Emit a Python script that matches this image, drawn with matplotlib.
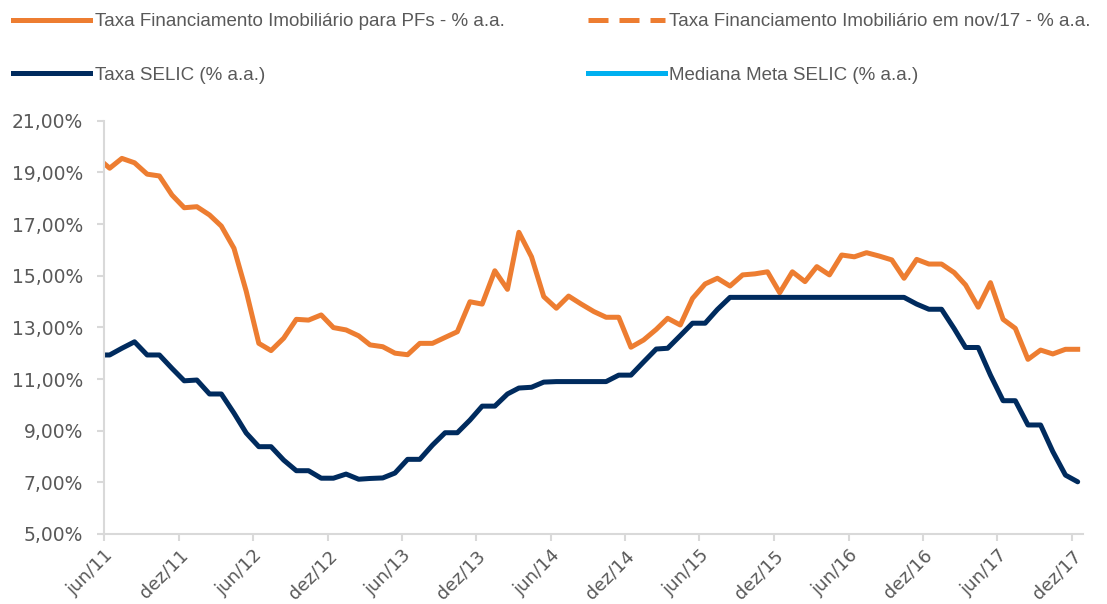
import matplotlib
matplotlib.use('Agg')
import matplotlib.pyplot as plt
from matplotlib.lines import Line2D
from matplotlib.ticker import FuncFormatter
import pandas as pd

# meses (pontos no meio do mes), de mai/11 a dez/17
meses = pd.date_range('2011-05-01', '2017-12-01', freq='MS') + pd.Timedelta(days=14)

# Taxa Financiamento Imobiliario para PFs - % a.a.
fin_imob = [19.58,
            19.16, 19.54, 19.37, 18.93, 18.86, 18.12, 17.63, 17.67, 17.35, 16.92,
            16.06, 14.40, 12.38, 12.10, 12.58, 13.31, 13.28, 13.48, 12.99, 12.90,
            12.67, 12.32, 12.25, 12.00, 11.94, 12.38, 12.38, 12.61, 12.83, 13.99,
            13.90, 15.19, 14.47, 16.68, 15.73, 14.19, 13.74, 14.21, 13.90, 13.61,
            13.39, 13.39, 12.23, 12.51, 12.92, 13.35, 13.09, 14.12, 14.68, 14.90,
            14.60, 15.03, 15.07, 15.15, 14.34, 15.15, 14.77, 15.35, 15.03, 15.80,
            15.73, 15.89, 15.76, 15.61, 14.90, 15.63, 15.45, 15.45, 15.12, 14.64,
            13.78, 14.73, 13.31, 12.96, 11.76, 12.12, 11.97, 12.15, 12.15]

# Taxa SELIC (% a.a.)
selic = [11.93,
         11.93, 12.19, 12.44, 11.93, 11.93, 11.41, 10.93, 10.96, 10.42, 10.42,
         9.68, 8.91, 8.38, 8.38, 7.86, 7.45, 7.45, 7.16, 7.16, 7.32,
         7.12, 7.15, 7.17, 7.36, 7.89, 7.89, 8.44, 8.92, 8.92, 9.41,
         9.95, 9.95, 10.42, 10.65, 10.68, 10.88, 10.90, 10.90, 10.90, 10.90,
         10.90, 11.15, 11.15, 11.66, 12.16, 12.19, 12.68, 13.16, 13.16, 13.69,
         14.16, 14.16, 14.16, 14.16, 14.16, 14.16, 14.16, 14.16, 14.16, 14.16,
         14.16, 14.16, 14.16, 14.16, 14.16, 13.90, 13.70, 13.70, 12.95, 12.22,
         12.22, 11.15, 10.16, 10.16, 9.22, 9.22, 8.19, 7.28, 7.02]

meses_pt = ['jan', 'fev', 'mar', 'abr', 'mai', 'jun', 'jul', 'ago', 'set', 'out', 'nov', 'dez']
ticks = pd.date_range('2011-06-01', '2017-12-01', freq='6MS')
tick_labels = [f'{meses_pt[d.month - 1]}/{d.year % 100:02d}' for d in ticks]

laranja = '#ED7D31'
azul = '#002B5E'
azul_claro = '#00B0F0'
cinza = '#595959'
cinza_eixo = '#D9D9D9'

fig = plt.figure(figsize=(11.07, 6.04), dpi=100)
ax = fig.add_axes([0.0939, 0.1159, 0.8844, 0.6843])

ax.plot(meses, fin_imob, color=laranja, lw=3.6, solid_joinstyle='round')
ax.plot(meses, selic, color=azul, lw=3.6, solid_joinstyle='round', solid_capstyle='round')

ax.set_xlim(pd.Timestamp('2011-06-01'), pd.Timestamp('2017-12-28'))
ax.set_ylim(5, 21)
ax.set_yticks(range(5, 22, 2))
ax.yaxis.set_major_formatter(FuncFormatter(lambda v, p: f'{v:.2f}%'.replace('.', ',')))
ax.set_xticks(ticks)
ax.set_xticklabels(tick_labels, rotation=45, ha='right', va='top', rotation_mode='anchor')

for s in ['top', 'right']:
    ax.spines[s].set_visible(False)
for s in ['left', 'bottom']:
    ax.spines[s].set_color(cinza_eixo)
    ax.spines[s].set_linewidth(1.5)
ax.tick_params(axis='both', colors=cinza_eixo, width=1.5, length=5, labelcolor=cinza)
ax.tick_params(axis='y', pad=10, labelsize=13.5)
ax.tick_params(axis='x', pad=4, labelsize=13)

fonte_leg = ['Liberation Sans Narrow', 'Liberation Sans', 'DejaVu Sans']
h1 = [Line2D([], [], color=laranja, lw=3.6),
      Line2D([], [], color=azul, lw=3.6)]
l1 = ['Taxa Financiamento Imobiliário para PFs - % a.a.', 'Taxa SELIC (% a.a.)']
h2 = [Line2D([], [], color=laranja, lw=3.6, ls=(0, (4, 2.2))),
      Line2D([], [], color=azul_claro, lw=3.6)]
l2 = ['Taxa Financiamento Imobiliário em nov/17 - % a.a.', 'Mediana Meta SELIC (% a.a.)']

for h, l, x in [(h1, l1, 0.0), (h2, l2, 0.519)]:
    leg = fig.legend(h, l, loc='upper left', bbox_to_anchor=(x, 1.0), frameon=False,
                     handlelength=4.1, handletextpad=0.25, labelspacing=1.95,
                     borderaxespad=0.3, prop={'family': fonte_leg, 'size': 13.5})
    for t in leg.get_texts():
        t.set_color(cinza)

fig.savefig('out.png', dpi=100)
